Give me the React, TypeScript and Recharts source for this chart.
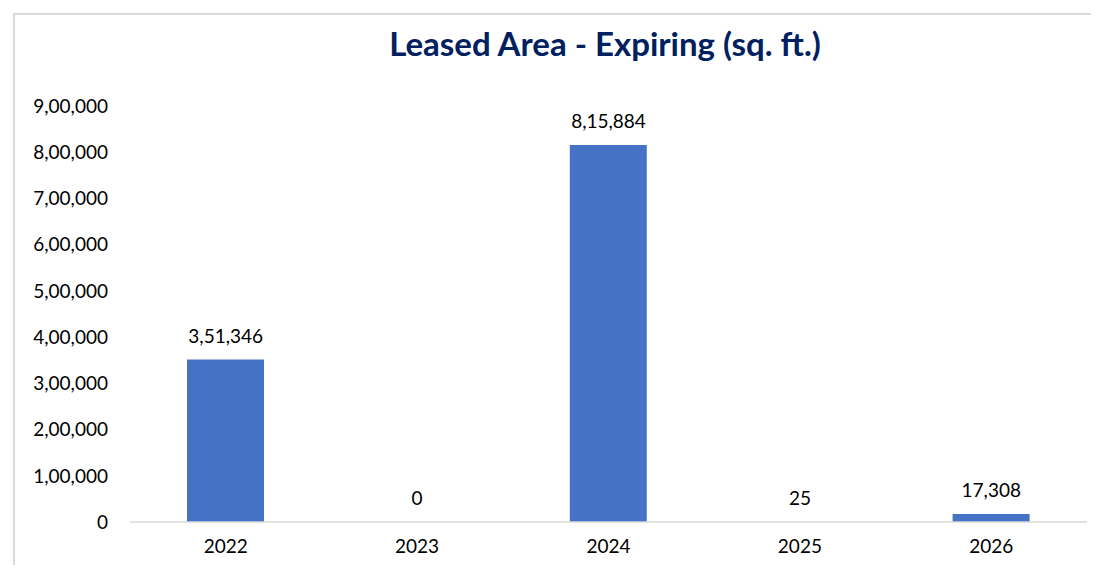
import React from 'react';
import { ComposedChart, Bar, Line, XAxis, YAxis, LabelList } from 'recharts';

const years = ['2022', '2023', '2024', '2025', '2026'];
const expiringArea = [351346, 0, 815884, 25, 17308];
const yTicks = [0, 100000, 200000, 300000, 400000, 500000, 600000, 700000, 800000, 900000];

const chartData = years.map((year, i) => ({ year, area: expiringArea[i] }));

// Indian digit grouping: 8,15,884
function formatIndian(value: number): string {
  const s = String(Math.round(value));
  if (s.length <= 3) return s;
  const last3 = s.slice(-3);
  let rest = s.slice(0, -3);
  const parts: string[] = [];
  while (rest.length > 2) {
    parts.unshift(rest.slice(-2));
    rest = rest.slice(0, -2);
  }
  if (rest) parts.unshift(rest);
  return parts.join(',') + ',' + last3;
}

const FONT = 'Lato, "Noto Sans", sans-serif';

export default function App() {
  return (
    <div style={{ position: 'relative', width: 1099, height: 573, margin: -8, background: '#fff', fontFamily: FONT }}>
      <div
        style={{
          position: 'absolute',
          left: 13,
          top: 13,
          width: 1099 - 13,
          height: 573 - 13,
          borderLeft: '2px solid #d9d9d9',
          borderTop: '2px solid #d9d9d9',
          boxSizing: 'border-box',
        }}
      />
      <div
        style={{
          position: 'absolute',
          left: 0,
          width: 1210,
          top: 23,
          textAlign: 'center',
          fontSize: 33,
          fontWeight: 700,
          color: '#002060',
        }}
      >
        Leased Area - Expiring (sq. ft.)
      </div>
      <div style={{ position: 'absolute', left: 0, top: 0 }}>
        <ComposedChart
          width={1099}
          height={573}
          data={chartData}
          margin={{ top: 106, right: 12, left: 0, bottom: 0 }}
        >
          <XAxis
            dataKey="year"
            height={51}
            axisLine={{ stroke: '#d9d9d9', strokeWidth: 1.5 }}
            tickLine={false}
            tickMargin={12}
            tick={{ fill: '#000', fontSize: 19, fontFamily: FONT }}
          />
          <YAxis
            width={130}
            domain={[0, 900000]}
            ticks={yTicks}
            interval={0}
            axisLine={false}
            tickLine={false}
            tickMargin={16}
            tickFormatter={formatIndian}
            tick={{ fill: '#000', fontSize: 19, fontFamily: FONT }}
          />
          <Bar dataKey="area" fill="#4472C4" barSize={77} isAnimationActive={false} />
          {/* invisible series that carries the data labels, so the 0 bar is labelled too */}
          <Line
            dataKey="area"
            stroke="none"
            dot={false}
            activeDot={false}
            legendType="none"
            isAnimationActive={false}
          >
            <LabelList
              dataKey="area"
              position="top"
              offset={17}
              formatter={(v: any) => formatIndian(Number(v))}
              style={{ fill: '#000', fontSize: 19, fontFamily: FONT }}
            />
          </Line>
        </ComposedChart>
      </div>
    </div>
  );
}
